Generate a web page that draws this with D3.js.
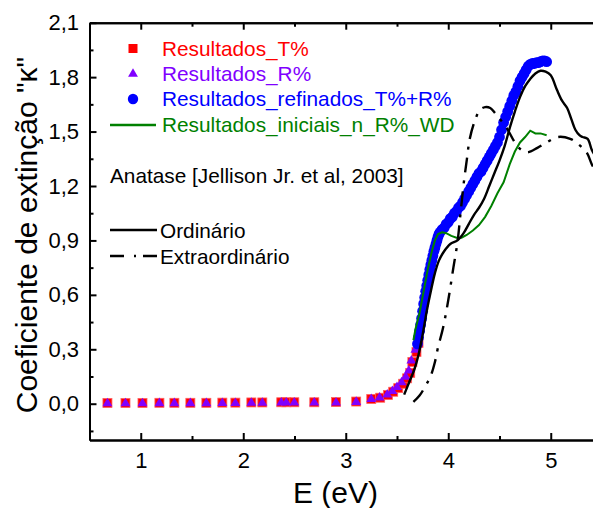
<!DOCTYPE html>
<html><head><meta charset="utf-8">
<script src="https://cdn.jsdelivr.net/npm/d3@7"></script>
<style>body{margin:0;background:#fff;overflow:hidden}svg{display:block}</style>
</head><body>
<svg id="c" width="593" height="508"></svg>
<script>
// ---- data ----
const xTicks = [1, 2, 3, 4, 5];
const xMinor = [1.5, 2.5, 3.5, 4.5, 5.5];
const yTicks = [0, 0.3, 0.6, 0.9, 1.2, 1.5, 1.8, 2.1];
const yMinor = [-0.15, 0.15, 0.45, 0.75, 1.05, 1.35, 1.65, 1.95];
const yTickLabels = ["0,0", "0,3", "0,6", "0,9", "1,2", "1,5", "1,8", "2,1"];

const tE = [0.675, 0.851, 1.017, 1.182, 1.328, 1.484, 1.640, 1.796, 1.923, 2.079, 2.186, 2.371, 2.420, 2.498, 2.693, 2.905, 3.102, 3.249, 3.336, 3.411, 3.463, 3.512, 3.560, 3.599, 3.629, 3.650, 3.690, 3.710];
const tK = [0.004, 0.004, 0.004, 0.005, 0.005, 0.005, 0.005, 0.006, 0.006, 0.007, 0.007, 0.008, 0.008, 0.008, 0.008, 0.009, 0.012, 0.026, 0.033, 0.048, 0.066, 0.086, 0.110, 0.140, 0.170, 0.230, 0.285, 0.335];

const rE = [0.675, 0.851, 1.017, 1.182, 1.328, 1.484, 1.640, 1.796, 1.923, 2.079, 2.186, 2.371, 2.420, 2.498, 2.693, 2.905, 3.102, 3.249, 3.330, 3.405, 3.455, 3.500, 3.545, 3.585, 3.615, 3.640, 3.680, 3.700];
const rK = [0.004, 0.004, 0.004, 0.005, 0.005, 0.005, 0.005, 0.006, 0.006, 0.007, 0.007, 0.008, 0.008, 0.008, 0.008, 0.009, 0.012, 0.028, 0.036, 0.052, 0.072, 0.094, 0.120, 0.150, 0.185, 0.240, 0.300, 0.340];

const bE = [3.70, 3.71, 3.72, 3.73, 3.74, 3.75, 3.76, 3.77, 3.78, 3.79, 3.80, 3.81, 3.82, 3.83, 3.84, 3.85, 3.86, 3.87, 3.88, 3.89, 3.90, 3.91, 3.92, 3.94, 3.96, 3.98, 4.00, 4.02, 4.04, 4.06, 4.08, 4.10, 4.12, 4.14, 4.16, 4.18, 4.20, 4.22, 4.24, 4.26, 4.28, 4.30, 4.32, 4.34, 4.36, 4.38, 4.40, 4.42, 4.44, 4.46, 4.48, 4.50, 4.52, 4.54, 4.56, 4.58, 4.60, 4.62, 4.64, 4.66, 4.68, 4.70, 4.72, 4.74, 4.76, 4.78, 4.80, 4.82, 4.84, 4.86, 4.88, 4.90, 4.92, 4.94, 4.96];
const bK = [0.33, 0.365, 0.40, 0.435, 0.47, 0.51, 0.55, 0.585, 0.62, 0.65, 0.68, 0.71, 0.74, 0.765, 0.79, 0.815, 0.84, 0.86, 0.88, 0.90, 0.92, 0.935, 0.945, 0.96, 0.97, 0.99, 1.00, 1.02, 1.03, 1.05, 1.06, 1.08, 1.09, 1.11, 1.13, 1.15, 1.17, 1.19, 1.21, 1.23, 1.25, 1.27, 1.28, 1.30, 1.32, 1.34, 1.36, 1.38, 1.40, 1.42, 1.44, 1.47, 1.51, 1.55, 1.58, 1.61, 1.64, 1.67, 1.70, 1.72, 1.75, 1.78, 1.80, 1.82, 1.84, 1.86, 1.87, 1.875, 1.875, 1.88, 1.88, 1.885, 1.89, 1.89, 1.885];

const gE = [3.66, 3.68, 3.72, 3.76, 3.80, 3.84, 3.87, 3.90, 3.94, 3.98, 4.03, 4.08, 4.13, 4.18, 4.24, 4.30, 4.36, 4.42, 4.48, 4.54, 4.60, 4.65, 4.70, 4.75, 4.80, 4.85, 4.90, 4.96];
const gK = [0.35, 0.41, 0.50, 0.62, 0.74, 0.84, 0.90, 0.935, 0.945, 0.94, 0.925, 0.915, 0.915, 0.93, 0.955, 0.985, 1.03, 1.09, 1.16, 1.22, 1.32, 1.39, 1.44, 1.47, 1.505, 1.49, 1.49, 1.48];

const oE = [3.57, 3.62, 3.67, 3.71, 3.75, 3.79, 3.83, 3.87, 3.91, 3.96, 4.02, 4.09, 4.15, 4.20, 4.25, 4.30, 4.35, 4.40, 4.45, 4.50, 4.55, 4.60, 4.65, 4.70, 4.75, 4.80, 4.85, 4.90, 4.95, 5.00, 5.06, 5.11, 5.16, 5.20, 5.24, 5.28, 5.31, 5.36, 5.40, 5.45, 5.50];
const oK = [0.05, 0.12, 0.19, 0.27, 0.38, 0.51, 0.62, 0.72, 0.79, 0.84, 0.88, 0.90, 0.94, 0.99, 1.04, 1.08, 1.13, 1.20, 1.27, 1.34, 1.42, 1.52, 1.61, 1.69, 1.75, 1.79, 1.82, 1.835, 1.83, 1.81, 1.73, 1.67, 1.63, 1.57, 1.51, 1.48, 1.47, 1.46, 1.40, 1.35, 1.30];

const eE = [3.66, 3.72, 3.78, 3.83, 3.87, 3.90, 3.95, 4.00, 4.05, 4.09, 4.12, 4.15, 4.18, 4.21, 4.26, 4.31, 4.36, 4.41, 4.46, 4.51, 4.57, 4.65, 4.71, 4.77, 4.87, 4.96, 5.07, 5.19, 5.27, 5.35, 5.40, 5.45, 5.50];
const eK = [0.01, 0.045, 0.10, 0.155, 0.23, 0.31, 0.42, 0.57, 0.75, 0.89, 1.05, 1.21, 1.34, 1.46, 1.56, 1.62, 1.635, 1.63, 1.60, 1.565, 1.52, 1.44, 1.40, 1.385, 1.41, 1.44, 1.47, 1.46, 1.43, 1.385, 1.32, 1.27, 1.22];

// ---- layout ----
const svg = d3.select("#c");
const x = d3.scaleLinear().domain([0.5, 5.5]).range([89.5, 602]);
const y = d3.scaleLinear().domain([-0.2, 2.1]).range([440, 22.7]);
const FONT = "'Liberation Sans', Arial, sans-serif";

svg.append("defs").append("clipPath").attr("id", "clip")
  .append("rect").attr("x", x(0.5)).attr("y", y(2.1)).attr("width", x(5.5) - x(0.5)).attr("height", y(-0.2) - y(2.1));

const plot = svg.append("g").attr("clip-path", "url(#clip)");
const zip = (a, b) => a.map((v, i) => [v, b[i]]);
const line = d3.line().x(d => x(d[0])).y(d => y(d[1])).curve(d3.curveCatmullRom.alpha(0.5));

// squares
const sq = 9;
plot.selectAll(".sq").data(zip(tE, tK)).enter().append("rect")
  .attr("x", d => x(d[0]) - sq / 2).attr("y", d => y(d[1]) - sq / 2)
  .attr("width", sq).attr("height", sq).attr("fill", "#FF0000")
  .attr("stroke", "#FF6060").attr("stroke-width", 0.8);

// triangles
const tri = d3.symbol().type(d3.symbolTriangle).size(42);
plot.selectAll(".tri").data(zip(rE, rK)).enter().append("path")
  .attr("d", tri).attr("transform", d => `translate(${x(d[0])},${y(d[1]) + 0.5})`)
  .attr("fill", "#8000FF");

// blue circles
plot.selectAll(".bc").data(zip(bE, bK)).enter().append("circle")
  .attr("cx", d => x(d[0])).attr("cy", d => y(d[1])).attr("r", 5.4)
  .attr("fill", "#0000FF");

// green line
plot.append("path").datum(zip(gE, gK)).attr("d", d3.line().x(d => x(d[0])).y(d => y(d[1])))
  .attr("fill", "none").attr("stroke", "#008000").attr("stroke-width", 2);

// reference curves
plot.append("path").datum(zip(eE, eK)).attr("d", line)
  .attr("fill", "none").attr("stroke", "#000").attr("stroke-width", 2.4)
  .attr("stroke-dasharray", "15,8,3,8");
plot.append("path").datum(zip(oE, oK)).attr("d", line)
  .attr("fill", "none").attr("stroke", "#000").attr("stroke-width", 2.4);

// ---- axes ----
const axStyle = g => {
  g.selectAll(".domain").attr("stroke-width", 2);
  g.selectAll(".tick line").attr("stroke-width", 2);
  g.selectAll("text").attr("font-family", FONT).attr("font-size", 22).attr("fill", "#000");
};
svg.append("g").attr("transform", `translate(0,${y(-0.2)})`)
  .call(d3.axisBottom(x).tickValues(xTicks).tickSizeInner(-7).tickSizeOuter(0).tickPadding(12.4).tickFormat(d3.format("d")))
  .call(axStyle);
svg.append("g").attr("transform", `translate(0,${y(-0.2)})`)
  .call(d3.axisBottom(x).tickValues(xMinor).tickSizeInner(-4).tickSizeOuter(0).tickFormat(""))
  .call(axStyle);
svg.append("g").attr("transform", `translate(0,${y(2.1)})`)
  .call(d3.axisTop(x).tickValues(xTicks).tickSizeInner(-7).tickSizeOuter(0).tickFormat(""))
  .call(axStyle);
svg.append("g").attr("transform", `translate(0,${y(2.1)})`)
  .call(d3.axisTop(x).tickValues(xMinor).tickSizeInner(-4).tickSizeOuter(0).tickFormat(""))
  .call(axStyle);
svg.append("g").attr("transform", `translate(${x(0.5)},0)`)
  .call(d3.axisLeft(y).tickValues(yTicks).tickSizeInner(-7).tickSizeOuter(0).tickPadding(10.5)
    .tickFormat((d, i) => yTickLabels[i]))
  .call(axStyle);
svg.append("g").attr("transform", `translate(${x(0.5)},0)`)
  .call(d3.axisLeft(y).tickValues(yMinor).tickSizeInner(-4).tickSizeOuter(0).tickFormat(""))
  .call(axStyle);

// axis titles
svg.append("text").attr("x", 293).attr("y", 503).attr("font-family", FONT).attr("font-size", 30)
  .text("E (eV)");
svg.append("text").attr("transform", `translate(37,${(60 + 410) / 2}) rotate(-90)`)
  .attr("text-anchor", "middle").attr("font-family", FONT).attr("font-size", 30)
  .text("Coeficiente de extinção \"κ\"");

// ---- legend ----
const lg = svg.append("g").attr("font-family", FONT).attr("font-size", 20.8);
const rows = [
  {t: "Resultados_T%", c: "#FF0000", y: 48.5},
  {t: "Resultados_R%", c: "#8000FF", y: 73.5},
  {t: "Resultados_refinados_T%+R%", c: "#0000FF", y: 99},
  {t: "Resultados_iniciais_n_R%_WD", c: "#008000", y: 125}
];
rows.forEach(r => lg.append("text").attr("x", 162).attr("y", r.y + 7.4).attr("fill", r.c).text(r.t));
lg.append("rect").attr("x", 133 - 4.5).attr("y", rows[0].y - 4.5).attr("width", 9).attr("height", 9).attr("fill", "#FF0000");
lg.append("path").attr("d", tri).attr("transform", `translate(133,${rows[1].y + 0.5})`).attr("fill", "#8000FF");
lg.append("circle").attr("cx", 133).attr("cy", rows[2].y).attr("r", 5.2).attr("fill", "#0000FF");
lg.append("line").attr("x1", 110).attr("x2", 156).attr("y1", rows[3].y).attr("y2", rows[3].y)
  .attr("stroke", "#008000").attr("stroke-width", 2.4);

lg.append("text").attr("x", 110).attr("y", 183).attr("fill", "#000").text("Anatase [Jellison Jr. et al, 2003]");
lg.append("line").attr("x1", 110).attr("x2", 157).attr("y1", 230).attr("y2", 230)
  .attr("stroke", "#000").attr("stroke-width", 2.4);
lg.append("text").attr("x", 160).attr("y", 237.5).attr("fill", "#000").text("Ordinário");
lg.append("line").attr("x1", 110).attr("x2", 157).attr("y1", 256).attr("y2", 256)
  .attr("stroke", "#000").attr("stroke-width", 2.4).attr("stroke-dasharray", "14,10,2,7,14");
lg.append("text").attr("x", 160).attr("y", 263.5).attr("fill", "#000").text("Extraordinário");
</script>
</body></html>
